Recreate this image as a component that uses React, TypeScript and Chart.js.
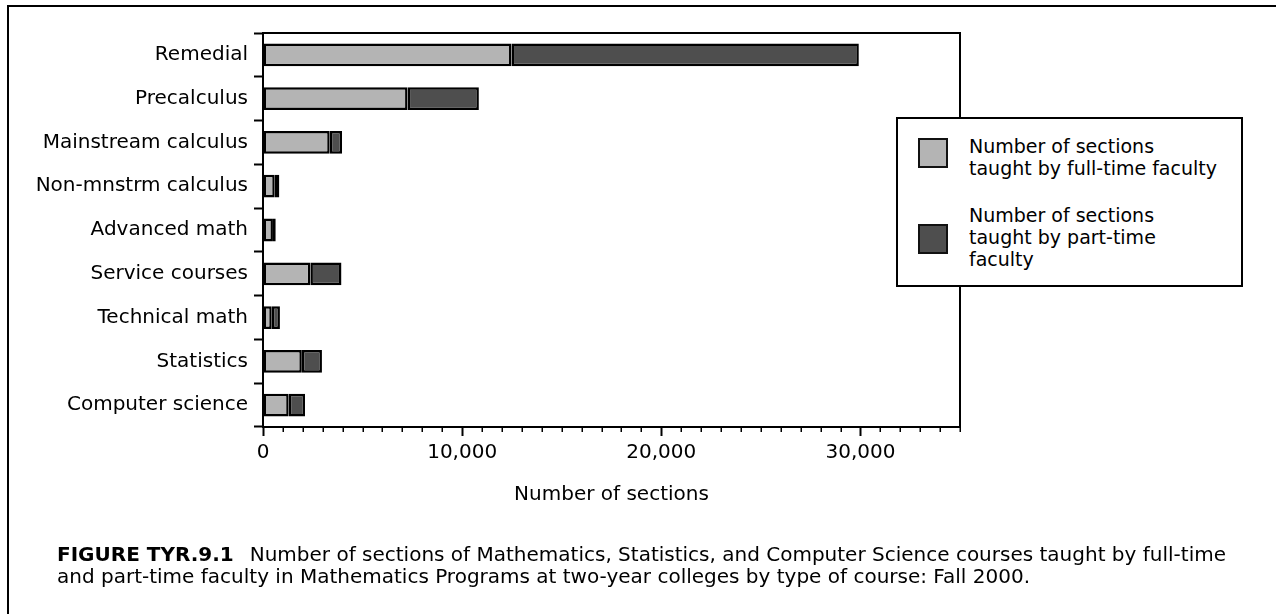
import React, { useEffect, useRef } from "react";
import { Chart, registerables } from "chart.js";
Chart.register(...registerables);

const categories = [
  "Remedial",
  "Precalculus",
  "Mainstream calculus",
  "Non-mnstrm calculus",
  "Advanced math",
  "Service courses",
  "Technical math",
  "Statistics",
  "Computer science",
];
const fullTime = [12480, 7260, 3350, 590, 500, 2380, 440, 1950, 1290];
const partTime = [17440, 3580, 620, 230, 140, 1560, 410, 1010, 820];
const seriesLabels = [
  ["Number of sections", "taught by full-time faculty"],
  ["Number of sections", "taught by part-time", "faculty"],
];
const xMax = 35000;
const majorTicks = [0, 10000, 20000, 30000];
const minorStep = 1000;
const axisTitle = "Number of sections";
const captionHead = "FIGURE TYR.9.1";
const captionLines = [
  "Number of sections of Mathematics, Statistics, and Computer Science courses taught by full-time",
  "and part-time faculty in Mathematics Programs at two-year colleges by type of course: Fall 2000.",
];

const FONT = "'DejaVu Sans', sans-serif";
const LIGHT = "#b4b4b4";
const DARK = "#4e4e4e";

const framePlugin = {
  id: "frameAndMinorTicks",
  afterDraw(chart: any) {
    const { ctx, chartArea: a, scales } = chart;
    const x = scales.x;
    ctx.save();
    ctx.strokeStyle = "#000";
    ctx.lineWidth = 2;
    ctx.beginPath();
    ctx.moveTo(a.left - 1, a.top);
    ctx.lineTo(a.right, a.top);
    ctx.lineTo(a.right, a.bottom);
    ctx.stroke();
    ctx.lineWidth = 1.5;
    ctx.beginPath();
    for (let v = minorStep; v <= xMax; v += minorStep) {
      if (majorTicks.includes(v)) continue;
      const px = Math.round(x.getPixelForValue(v)) + 0.25;
      ctx.moveTo(px, a.bottom);
      ctx.lineTo(px, a.bottom + 5);
    }
    ctx.stroke();
    ctx.restore();
  },
};

export default function App() {
  const ref = useRef<HTMLCanvasElement | null>(null);

  useEffect(() => {
    document.body.style.margin = "0";
    if (!ref.current) return;
    const chart = new Chart(ref.current, {
      type: "bar",
      data: {
        labels: categories,
        datasets: [
          {
            label: seriesLabels[0].join(" "),
            data: fullTime,
            backgroundColor: LIGHT,
            borderColor: "#000",
            borderWidth: 2.5,
            borderSkipped: false,
            barPercentage: 0.52,
            categoryPercentage: 1,
          },
          {
            label: seriesLabels[1].join(" "),
            data: partTime,
            backgroundColor: DARK,
            borderColor: "#000",
            borderWidth: 2.5,
            borderSkipped: false,
            barPercentage: 0.52,
            categoryPercentage: 1,
          },
        ],
      },
      options: {
        indexAxis: "y",
        animation: false,
        responsive: false,
        layout: { padding: { top: 33, right: 316, bottom: 102, left: 0 } },
        plugins: { legend: { display: false }, tooltip: { enabled: false } },
        scales: {
          x: {
            type: "linear",
            stacked: true,
            min: 0,
            max: xMax,
            position: "bottom",
            afterBuildTicks: (s: any) => {
              s.ticks = majorTicks.map((v) => ({ value: v }));
            },
            afterFit: (s: any) => {
              s.height = 85;
            },
            ticks: {
              color: "#000",
              padding: 5,
              autoSkip: false,
              maxRotation: 0,
              font: { family: FONT, size: 20 },
              callback: (v: any) => Number(v).toLocaleString("en-US"),
            },
            grid: {
              drawOnChartArea: false,
              drawTicks: true,
              tickLength: 9,
              tickWidth: 2,
              tickColor: "#000",
              color: "#000",
            },
            border: { display: true, color: "#000", width: 2 },
            title: {
              display: true,
              text: axisTitle,
              color: "#000",
              font: { family: FONT, size: 20 },
              padding: { top: 0, bottom: 5 },
            },
          },
          y: {
            type: "category",
            stacked: true,
            afterFit: (s: any) => {
              s.width = 263;
            },
            ticks: {
              color: "#000",
              padding: 6,
              font: { family: FONT, size: 20 },
            },
            grid: {
              offset: true,
              drawOnChartArea: false,
              drawTicks: true,
              tickLength: 9,
              tickWidth: 2,
              tickColor: "#000",
              color: "#000",
            },
            border: { display: true, color: "#000", width: 2 },
          },
        },
      },
      plugins: [framePlugin],
    } as any);
    return () => chart.destroy();
  }, []);

  const swatch = (top: number, color: string): React.CSSProperties => ({
    position: "absolute",
    left: 918,
    top,
    width: 26,
    height: 26,
    background: color,
    border: "2px solid #111",
  });
  const textBlock = (top: number): React.CSSProperties => ({
    position: "absolute",
    left: 969,
    top,
    fontFamily: FONT,
    fontSize: 19,
    lineHeight: "22px",
    color: "#000",
    whiteSpace: "nowrap",
  });

  return (
    <div
      style={{
        position: "relative",
        width: 1276,
        height: 614,
        overflow: "hidden",
        background: "#fff",
      }}
    >
      <div
        style={{
          position: "absolute",
          left: 7,
          top: 5,
          width: 1400,
          height: 700,
          borderTop: "2px solid #000",
          borderLeft: "2px solid #000",
        }}
      />
      <canvas
        ref={ref}
        width={1276}
        height={614}
        style={{ position: "absolute", left: 0, top: 0, width: 1276, height: 614 }}
      />
      <div
        style={{
          position: "absolute",
          left: 896,
          top: 117,
          width: 343,
          height: 166,
          border: "2px solid #000",
          background: "#fff",
        }}
      />
      <div style={swatch(138, LIGHT)} />
      <div style={textBlock(135)}>
        {seriesLabels[0].map((l, i) => (
          <div key={i}>{l}</div>
        ))}
      </div>
      <div style={swatch(224, DARK)} />
      <div style={textBlock(204)}>
        {seriesLabels[1].map((l, i) => (
          <div key={i}>{l}</div>
        ))}
      </div>
      <div
        style={{
          position: "absolute",
          left: 57,
          top: 543,
          fontFamily: FONT,
          fontSize: 20,
          lineHeight: "22px",
          color: "#000",
          whiteSpace: "nowrap",
        }}
      >
        <div>
          <b style={{ marginRight: 16 }}>{captionHead}</b>
          {captionLines[0]}
        </div>
        <div>{captionLines[1]}</div>
      </div>
    </div>
  );
}
